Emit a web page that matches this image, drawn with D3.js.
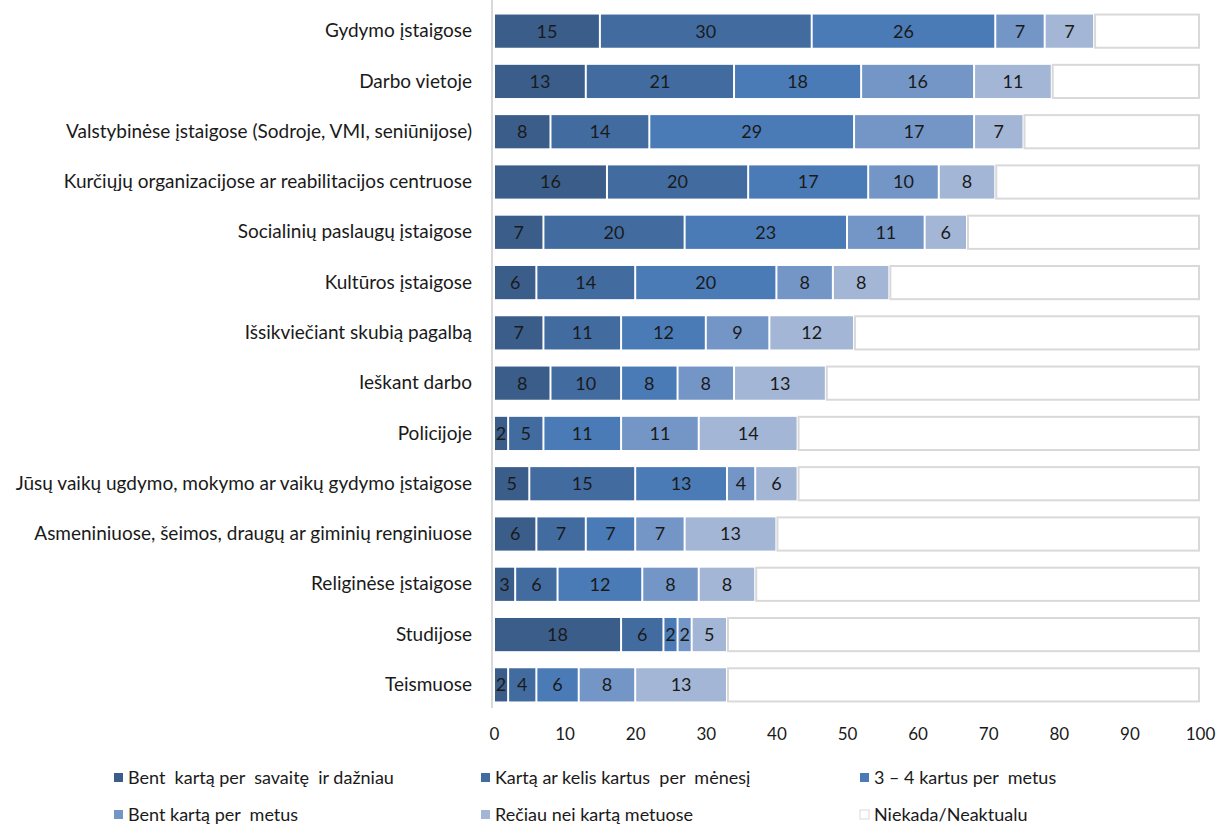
<!DOCTYPE html>
<html>
<head>
<meta charset="utf-8">
<script src="https://cdn.jsdelivr.net/npm/d3@7"></script>
<style>
  body { margin: 0; background: #fff; }
  svg text { font-family: Lato, "Liberation Sans", sans-serif; fill: #1a1a1a; }
</style>
</head>
<body>
<svg id="chart"></svg>
<script>
const width = 1227, height = 827;
const margin = { top: 6, right: 27, bottom: 117, left: 492 };

const categories = [
    "Gydymo įstaigose",
    "Darbo vietoje",
    "Valstybinėse įstaigose (Sodroje, VMI, seniūnijose)",
    "Kurčiųjų organizacijose ar reabilitacijos centruose",
    "Socialinių paslaugų įstaigose",
    "Kultūros įstaigose",
    "Išsikviečiant skubią pagalbą",
    "Ieškant darbo",
    "Policijoje",
    "Jūsų vaikų ugdymo, mokymo ar vaikų gydymo įstaigose",
    "Asmeniniuose, šeimos, draugų ar giminių renginiuose",
    "Religinėse įstaigose",
    "Studijose",
    "Teismuose"
];

const seriesNames = [
    "Bent  kartą per  savaitę  ir dažniau",
    "Kartą ar kelis kartus  per  mėnesį",
    "3 – 4 kartus per  metus",
    "Bent kartą per  metus",
    "Rečiau nei kartą metuose",
    "Niekada/Neaktualu"
];

const weekly    = [15, 13,  8, 16,  7,  6,  7,  8,  2,  5,  6,  3, 18, 2];
const monthly   = [30, 21, 14, 20, 20, 14, 11, 10,  5, 15,  7,  6,  6, 4];
const threeFour = [26, 18, 29, 17, 23, 20, 12,  8, 11, 13,  7, 12,  2, 6];
const yearly    = [ 7, 16, 17, 10, 11,  8,  9,  8, 11,  4,  7,  8,  2, 8];
const rarer     = [ 7, 11,  7,  8,  6,  8, 12, 13, 14,  6, 13,  8,  5, 13];
const never     = [15, 21, 25, 29, 33, 44, 49, 53, 57, 57, 60, 63, 67, 67];

const xTicks = [0, 10, 20, 30, 40, 50, 60, 70, 80, 90, 100];

const colors = ["#3b5d8a", "#426ca0", "#4a7bb6", "#7496c6", "#a3b6d6", "#ffffff"];

const table = categories.map((c, i) => ({
    category: c,
    [seriesNames[0]]: weekly[i],
    [seriesNames[1]]: monthly[i],
    [seriesNames[2]]: threeFour[i],
    [seriesNames[3]]: yearly[i],
    [seriesNames[4]]: rarer[i],
    [seriesNames[5]]: never[i]
}));

const svg = d3.select("#chart").attr("width", width).attr("height", height);

const x = d3.scaleLinear()
    .domain([0, 100])
    .range([margin.left + 2, width - margin.right]);

const y = d3.scaleBand()
    .domain(categories)
    .range([margin.top, height - margin.bottom])
    .paddingInner(0.34)
    .paddingOuter(0.17);

const stacked = d3.stack().keys(seriesNames)(table);

// bars
const layer = svg.append("g")
    .selectAll("g")
    .data(stacked)
    .join("g")
    .attr("fill", (d, i) => colors[i]);

layer.selectAll("rect")
    .data((d, i) => d.map(v => ({ v, i })))
    .join("rect")
    .attr("x", d => x(d.v[0]) + 1)
    .attr("y", d => y(d.v.data.category))
    .attr("width", d => Math.max(0, x(d.v[1]) - x(d.v[0]) - 2))
    .attr("height", y.bandwidth())
    .attr("stroke", d => d.i === 5 ? "#d9d9d9" : "none")
    .attr("stroke-width", d => d.i === 5 ? 2 : 0);

// value labels
layer.filter((d, i) => i < 5).selectAll("text")
    .data(d => d)
    .join("text")
    .attr("x", d => (x(d[0]) + x(d[1])) / 2)
    .attr("y", d => y(d.data.category) + y.bandwidth() / 2)
    .attr("dy", "0.36em")
    .attr("text-anchor", "middle")
    .attr("font-size", 18)
    .text(d => d[1] - d[0]);

// vertical axis line
svg.append("line")
    .attr("x1", margin.left).attr("x2", margin.left)
    .attr("y1", margin.top - 6).attr("y2", height - margin.bottom - 2)
    .attr("stroke", "#d9d9d9")
    .attr("stroke-width", 2);

// category labels
const yAxis = g => {
    g.attr("transform", `translate(${margin.left - 10},0)`)
        .call(d3.axisLeft(y).tickSize(0).tickPadding(10))
        .call(g => g.select(".domain").remove())
        .call(g => g.selectAll("text")
            .attr("font-size", 19)
            .attr("font-family", "Lato, 'Liberation Sans', sans-serif")
            .attr("fill", "#1a1a1a"));
};
svg.append("g").call(yAxis);

// x axis ticks
const xAxis = g => {
    g.attr("transform", `translate(0,${height - margin.bottom + 15})`)
        .call(d3.axisBottom(x).tickValues(xTicks).tickSize(0).tickPadding(3))
        .call(g => g.select(".domain").remove())
        .call(g => g.selectAll("text")
            .attr("font-size", 17)
            .attr("font-family", "Lato, 'Liberation Sans', sans-serif")
            .attr("fill", "#1a1a1a"));
};
svg.append("g").call(xAxis);

// legend
const legendX = [114, 481, 860];
const legendY = [778, 815];
const legend = svg.append("g")
    .selectAll("g")
    .data(seriesNames)
    .join("g")
    .attr("transform", (d, i) => `translate(${legendX[i % 3]},${legendY[Math.floor(i / 3)]})`);

legend.append("rect")
    .attr("x", 0).attr("y", -5)
    .attr("width", 9).attr("height", 9)
    .attr("fill", (d, i) => colors[i])
    .attr("stroke", (d, i) => i === 5 ? "#d9d9d9" : "none")
    .attr("stroke-width", 1);

legend.append("text")
    .attr("x", 14)
    .attr("dy", "0.35em")
    .attr("font-size", 18)
    .style("white-space", "pre")
    .text(d => d);
</script>
</body>
</html>
